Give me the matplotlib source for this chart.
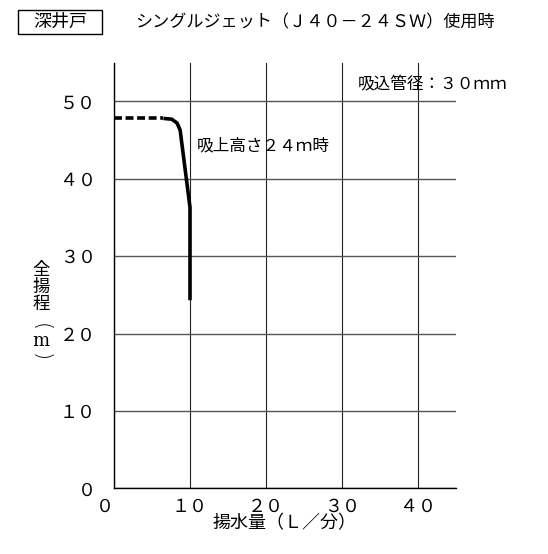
import matplotlib

matplotlib.use("Agg")
import matplotlib.pyplot as plt
from matplotlib.patches import Rectangle

plt.rcParams["font.family"] = ["Noto Sans CJK JP", "DejaVu Sans"]

# data
flow_dashed = [0.0, 6.5]
head_dashed = [47.8, 47.8]
flow_solid = [6.5, 7.6, 8.3, 8.7, 10.0, 10.0]
head_solid = [47.8, 47.7, 47.2, 46.3, 36.3, 24.3]

x_ticks = [0, 10, 20, 30, 40]
x_labels = ["０", "１０", "２０", "３０", "４０"]
y_ticks = [0, 10, 20, 30, 40, 50]
y_labels = ["０", "１０", "２０", "３０", "４０", "５０"]

W, H = 548, 554


def fx(px):
    return px / W


def fy(py):
    return 1 - py / H


fig = plt.figure(figsize=(W / 100, H / 100), dpi=100)
ax = fig.add_axes([fx(114), fy(488.3), (456 - 114) / W, (488.3 - 62.7) / H])

ax.plot(flow_dashed, head_dashed, color="black", lw=2.6, dashes=(2.2, 1.0),
        solid_capstyle="butt", zorder=3)
ax.plot(flow_solid, head_solid, color="black", lw=2.6, solid_joinstyle="round",
        solid_capstyle="butt", zorder=3)

ax.set_xlim(0, 45)
ax.set_ylim(0, 55)
ax.set_xticks(x_ticks)
ax.set_xticklabels(x_labels, fontsize=13)
ax.set_yticks(y_ticks)
ax.set_yticklabels(y_labels, fontsize=13)
ax.get_xticklabels()[0].set_horizontalalignment("right")
ax.tick_params(length=0)
ax.tick_params(axis="x", pad=7)
ax.tick_params(axis="y", pad=13)
ax.grid(axis="x", color="#222222", lw=0.8)
ax.grid(axis="y", color="#555555", lw=1.0)
for side in ["top", "right"]:
    ax.spines[side].set_visible(False)
for side in ["left", "bottom"]:
    ax.spines[side].set_linewidth(1.0)

ax.set_xlabel("揚水量（Ｌ／分）", fontsize=13, labelpad=-1)

# vertical y label: 全揚程 (m) with arcs above and below m
fig.text(fx(41), fy(287), "全\n揚\n程", fontsize=12.5, ha="center", va="center",
         linespacing=0.95)
fig.text(fx(41), fy(327), "(", fontsize=15, ha="center", va="center", rotation=-90,
         family="DejaVu Sans", fontweight="light")
fig.text(fx(41), fy(341), "m", fontsize=13, ha="center", va="center",
         family="DejaVu Serif")
fig.text(fx(41), fy(357), ")", fontsize=15, ha="center", va="center", rotation=-90,
         family="DejaVu Sans", fontweight="light")

ax.text(10.9, 44.3, "吸上高さ２４ｍ時", fontsize=12, va="center", ha="left")
fig.text(fx(507), fy(85), "吸込管径：３０ｍｍ", fontsize=12, ha="right", va="center")

# title box
fig.add_artist(Rectangle((fx(18), fy(34)), 84 / W, 24 / H, transform=fig.transFigure,
                         fill=False, ec="black", lw=1.0))
fig.text(fx(60), fy(22), "深井戸", fontsize=13, ha="center", va="center")
fig.text(fx(135), fy(22), "シングルジェット（Ｊ４０－２４ＳＷ）使用時", fontsize=12.3,
         ha="left", va="center")

fig.savefig("out.png", dpi=100)
